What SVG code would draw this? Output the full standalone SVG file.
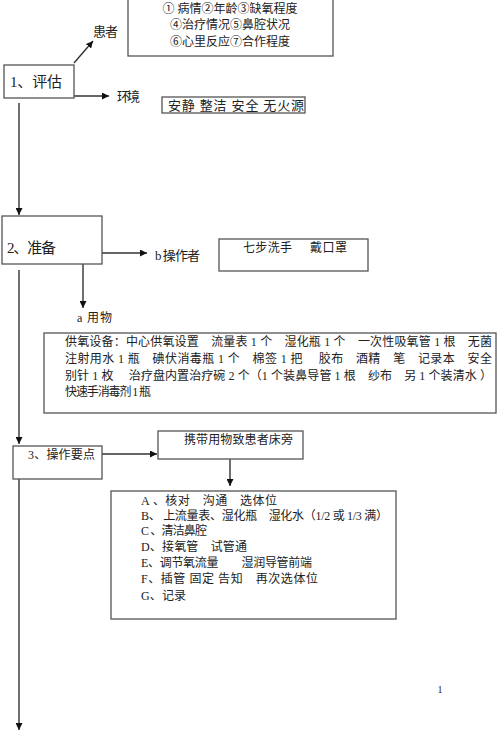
<svg xmlns="http://www.w3.org/2000/svg" width="500" height="733" viewBox="0 0 500 733">
<style>
.box{fill:#fff;stroke:#555;stroke-width:1.3}
.ln{stroke:#333;stroke-width:1.4;fill:none}
text{font-family:"Liberation Serif","Noto Sans CJK SC",serif;fill:#222}
.t12{font-size:12px}
.t13{font-size:13px}
.t15{font-size:15px}
</style>
<defs>
<marker id="ah" viewBox="0 0 10 10" refX="10" refY="5" markerWidth="7" markerHeight="7" markerUnits="userSpaceOnUse" orient="auto">
<path d="M0,0 L10,5 L0,10 z" fill="#111"/>
</marker>
</defs>
<rect width="500" height="733" fill="#fff"/>
<g id="connectors">
<line class="ln" x1="74" y1="63" x2="93" y2="41" marker-end="url(#ah)"/>
<line class="ln" x1="74" y1="96" x2="109" y2="96" marker-end="url(#ah)"/>
<line class="ln" x1="19" y1="103" x2="19" y2="215" marker-end="url(#ah)"/>
<line class="ln" x1="102" y1="253" x2="147" y2="253" marker-end="url(#ah)"/>
<line class="ln" x1="83" y1="264" x2="83" y2="308" marker-end="url(#ah)"/>
<line class="ln" x1="19" y1="270" x2="19" y2="444" marker-end="url(#ah)"/>
<line class="ln" x1="102" y1="454" x2="157" y2="454" marker-end="url(#ah)"/>
<line class="ln" x1="230" y1="459" x2="230" y2="486" marker-end="url(#ah)"/>
<line class="ln" x1="19" y1="479" x2="19" y2="730" marker-end="url(#ah)"/>
</g>
<g id="n1">
<rect class="box" x="4" y="65" width="70" height="33"/>
<text class="t15" x="10" y="87" textLength="52">1、评估</text>
</g>
<g id="patient">
<text class="t13" x="93" y="36" textLength="25">患者</text>
</g>
<g id="patient-box">
<rect class="box" x="128" y="-1" width="205" height="57"/>
<text class="t12" x="230" y="12.5" text-anchor="middle">① 病情②年龄③缺氧程度</text>
<text class="t12" x="230" y="28.5" text-anchor="middle">④治疗情况⑤鼻腔状况</text>
<text class="t12" x="230" y="45.5" text-anchor="middle">⑥心里反应⑦合作程度</text>
</g>
<g id="env">
<text class="t13" x="117" y="101" textLength="23">环境</text>
</g>
<g id="env-box">
<rect class="box" x="162" y="97" width="143" height="16"/>
<text class="t13" x="168" y="109.5" textLength="136">安静  整洁  安全  无火源</text>
</g>
<g id="n2">
<rect class="box" x="2" y="216" width="100" height="48"/>
<text class="t15" x="7" y="253" textLength="49">2、准备</text>
</g>
<g id="operator">
<text class="t13" x="155" y="259.5" textLength="45">b 操作者</text>
</g>
<g id="operator-box">
<rect class="box" x="219" y="239" width="149" height="32"/>
<text class="t12" x="243" y="251.5" textLength="49">七步洗手</text>
<text class="t12" x="310" y="251.5" textLength="37">戴口罩</text>
</g>
<g id="supplies">
<text class="t12" x="77" y="322" textLength="35">a 用物</text>
</g>
<g id="supplies-box">
<rect class="box" x="44" y="333" width="452" height="80"/>
<text class="t12" x="65" y="346" textLength="427">供氧设备：中心供氧设置　流量表 1 个　湿化瓶 1 个　一次性吸氧管 1 根　无菌</text>
<text class="t12" x="65" y="363" textLength="427">注射用水 1 瓶　碘伏消毒瓶 1 个　棉签 1 把　 胶布　酒精　笔　记录本　安全</text>
<text class="t12" x="65" y="380" textLength="427">别针 1 枚　 治疗盘内置治疗碗 2 个（1 个装鼻导管 1 根　纱布　另 1 个装清水 ）</text>
<text class="t12" x="65" y="396" textLength="86">快速手消毒剂 1 瓶</text>
</g>
<g id="n3">
<rect class="box" x="13" y="446" width="89" height="33"/>
<text class="t12" x="28" y="458.5" textLength="67">3、操作要点</text>
</g>
<g id="bedside">
<rect class="box" x="158" y="431" width="145" height="28"/>
<text class="t12" x="184" y="443.5" textLength="109">携带用物致患者床旁</text>
</g>
<g id="steps">
<rect class="box" x="111" y="491" width="285" height="128"/>
<text class="t12" x="141" y="504.5" textLength="136">A 、核对　沟通　选体位</text>
<text class="t12" x="141" y="519.5" textLength="247">B、 上流量表、湿化瓶　湿化水（1/2  或 1/3 满）</text>
<text class="t12" x="141" y="534.5" textLength="66">C 、清洁鼻腔</text>
<text class="t12" x="141" y="551" textLength="106">D、接氧管　试管通</text>
<text class="t12" x="141" y="567" textLength="171">E、调节氧流量　　湿润导管前端</text>
<text class="t12" x="141" y="583" textLength="177">F、插管  固定  告知　再次选体位</text>
<text class="t12" x="141" y="599.5" textLength="45">G、记录</text>
</g>
<g id="page">
<text x="440" y="693" style="font-size:10px" text-anchor="middle">1</text>
</g>
</svg>
